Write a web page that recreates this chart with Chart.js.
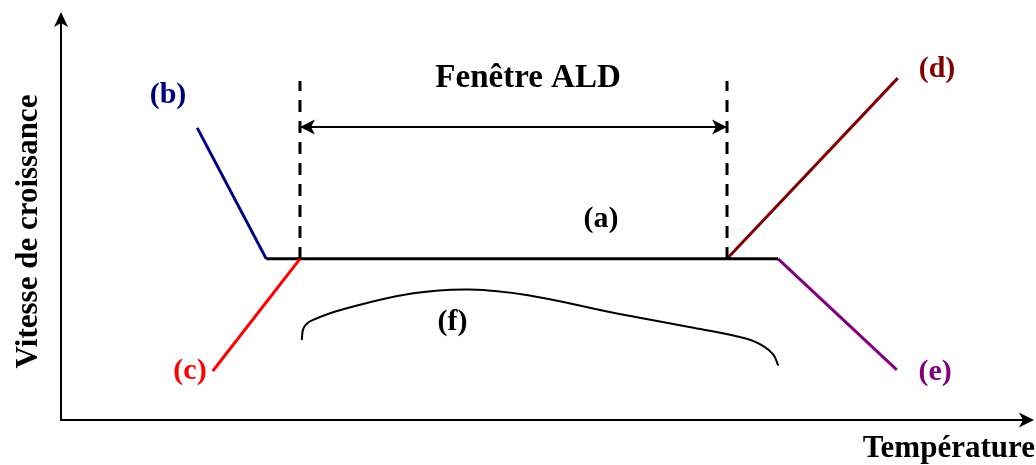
<!DOCTYPE html>
<html><head><meta charset="utf-8">
<script src="https://cdn.jsdelivr.net/npm/chart.js@4/dist/chart.umd.min.js"></script>
<style>html,body{margin:0;padding:0;background:#fff;overflow:hidden}#wrap{width:1036px;height:465px}</style>
</head><body><div id="wrap"><canvas id="c" width="1036" height="465"></canvas></div>
<script>
// Data (x: température, y: vitesse de croissance), arbitrary units 0..100
const aX = [21.1, 73.7];            const aY = [39.5, 39.5];
const bX = [14.0, 21.1];            const bY = [71.6, 39.5];
const cX = [15.6, 24.56];           const cY = [12.0, 39.5];
const dX = [68.45, 86.0];           const dY = [39.5, 83.8];
const eX = [73.7, 85.9];            const eY = [39.5, 12.3];
const fX = [24.74, 24.95, 25.8, 29.36, 36.21, 42.0, 48.0, 56.76, 65.0, 70.47, 72.18, 73.21, 73.72];
const fY = [19.61, 22.6, 24.4, 27.38, 31.05, 32.0, 30.6, 26.30, 22.6, 19.9, 18.1, 16.0, 13.31];
const windowX = [24.56, 68.45];     // ALD window limits
const windowY = [39.46, 83.1];      // dashed limits extent
const arrowY = 71.8;                // double arrow level
const labelText = ['(a)', '(b)', '(c)', '(d)', '(e)', '(f)', 'Fenêtre ALD'];
const labelX = [55.5, 11.0, 13.26, 90.03, 89.83, 40.24, 48.0];
const labelY = [47.3, 77.7, 10.05, 84.07, 9.8, 22.06, 81.62];
const labelColor = ['#000000', '#000080', '#ff0000', '#800000', '#800080', '#000000', '#000000'];
const xTitle = 'Température';
const yTitle = 'Vitesse de croissance';

const pts = (xs, ys) => xs.map((x, i) => ({x, y: ys[i]}));

function ds(data, color, width, extra) {
  return Object.assign({data, borderColor: color, borderWidth: width, showLine: true,
    pointRadius: 0, pointHoverRadius: 0, fill: false, clip: false, tension: 0}, extra || {});
}

function arrowHead(ctx, x, y, angle, len, half, notch) {
  ctx.save();
  ctx.translate(x, y);
  ctx.rotate(angle);
  ctx.beginPath();
  ctx.moveTo(0, 0);
  ctx.lineTo(-len, -half);
  ctx.lineTo(-len + notch, 0);
  ctx.lineTo(-len, half);
  ctx.closePath();
  ctx.fill();
  ctx.restore();
}

const deco = {
  id: 'deco',
  beforeDatasetsDraw(chart) {
    const ctx = chart.ctx, xs = chart.scales.x, ys = chart.scales.y;
    const x0 = xs.getPixelForValue(0), x1 = xs.getPixelForValue(100);
    const y0 = ys.getPixelForValue(0), y1 = ys.getPixelForValue(100);
    ctx.save();
    ctx.strokeStyle = '#000'; ctx.fillStyle = '#000'; ctx.lineWidth = 2;
    ctx.beginPath();
    ctx.moveTo(x0, y1 + 6); ctx.lineTo(x0, y0);
    ctx.lineTo(x1 - 6, y0);
    ctx.stroke();
    arrowHead(ctx, x0, y1, -Math.PI / 2, 15, 7, 4);
    arrowHead(ctx, x1, y0, 0, 15, 7.5, 4);
    ctx.restore();
  },
  afterDatasetsDraw(chart) {
    const ctx = chart.ctx, xs = chart.scales.x, ys = chart.scales.y;
    ctx.save();
    ctx.fillStyle = '#000';
    const ay = ys.getPixelForValue(arrowY);
    arrowHead(ctx, xs.getPixelForValue(windowX[0]), ay, Math.PI, 15, 7.5, 4);
    arrowHead(ctx, xs.getPixelForValue(windowX[1]), ay, 0, 15, 7.5, 4);
    ctx.textBaseline = 'alphabetic';
    ctx.textAlign = 'center';
    labelText.forEach((t, i) => {
      ctx.fillStyle = labelColor[i];
      ctx.font = (i === 6 ? 'bold 33px' : 'bold 30px') + ' "Liberation Serif", "Times New Roman", serif';
      ctx.fillText(t, xs.getPixelForValue(labelX[i]), ys.getPixelForValue(labelY[i]));
    });
    ctx.fillStyle = '#000';
    ctx.font = 'bold 31px "Liberation Serif", "Times New Roman", serif';
    ctx.textAlign = 'right';
    ctx.fillText(xTitle, xs.getPixelForValue(100.1), ys.getPixelForValue(-9.07));
    ctx.save();
    ctx.translate(xs.getPixelForValue(-2.47), ys.getPixelForValue(46.2));
    ctx.rotate(-Math.PI / 2);
    ctx.textAlign = 'center';
    ctx.fillText(yTitle, 0, 0);
    ctx.restore();
    ctx.restore();
  }
};

new Chart(document.getElementById('c'), {
  type: 'scatter',
  data: {
    datasets: [
      ds(pts([windowX[0], windowX[0]], windowY), '#000', 3, {borderDash: [12, 9]}),
      ds(pts([windowX[1], windowX[1]], windowY), '#000', 3, {borderDash: [12, 9]}),
      ds(pts(windowX, [arrowY, arrowY]), '#000', 2),
      ds(pts(bX, bY), '#000080', 3),
      ds(pts(cX, cY), '#ff0000', 3),
      ds(pts(eX, eY), '#800080', 3),
      ds(pts(aX, aY), '#000', 3),
      ds(pts(dX, dY), '#800000', 3),
      ds(pts(fX, fY), '#000', 2, {tension: 0.4})
    ]
  },
  options: {
    responsive: false,
    animation: false,
    devicePixelRatio: 1,
    layout: {padding: {left: 61, right: 2, top: 12, bottom: 45}},
    plugins: {legend: {display: false}, tooltip: {enabled: false}},
    events: [],
    scales: {
      x: {type: 'linear', min: 0, max: 100, display: false},
      y: {type: 'linear', min: 0, max: 100, display: false}
    }
  },
  plugins: [deco]
});
</script>
</body></html>
